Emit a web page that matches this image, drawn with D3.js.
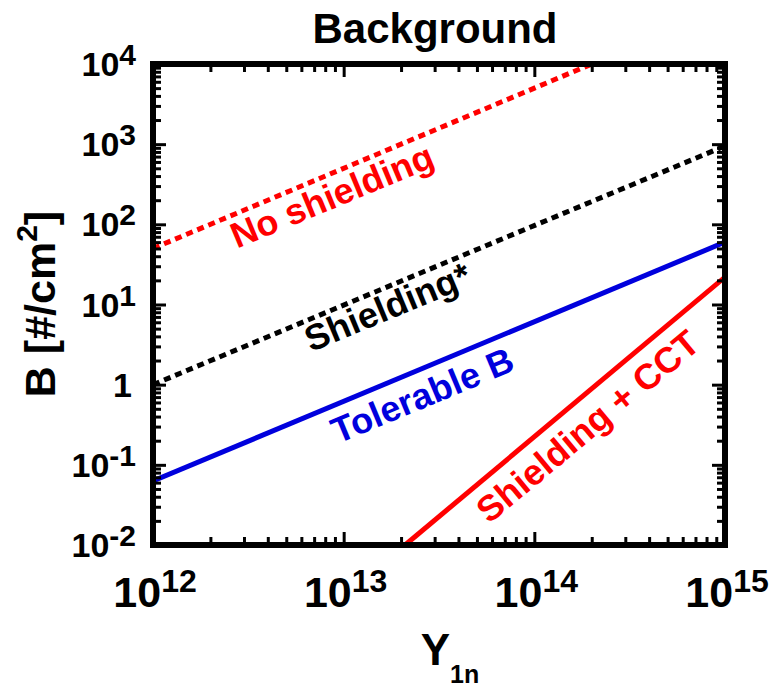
<!DOCTYPE html>
<html>
<head>
<meta charset="utf-8">
<script src="https://cdn.jsdelivr.net/npm/d3@7"></script>
<style>
  body { margin: 0; background: #fff; }
  text { font-family: "Liberation Sans", Arial, sans-serif; font-weight: bold; }
</style>
</head>
<body>
<div id="chart"></div>
<script>
// datos (Y_1n, B)
const noShielding = [[1e12, 50], [2e14, 1e4]];
const shielding = [[1e12, 1], [1e15, 950]];
const tolerable = [[1e12, 0.063], [1e15, 60]];
const shieldingCCT = [[2.1e13, 0.01], [1e15, 22]];

const xMajor = [1e12, 1e13, 1e14, 1e15];
const xExp = ["12", "13", "14", "15"];
const yMajor = [1e-2, 1e-1, 1, 10, 100, 1e3, 1e4];
const yExp = ["-2", "-1", null, "1", "2", "3", "4"];

const width = 775;
const height = 692;
const margin = {top: 64, right: 50, bottom: 147, left: 153};

let svg = d3.select("#chart").append("svg")
  .attr("width", width).attr("height", height);

let x = d3.scaleLog().domain([1e12, 1e15]).range([margin.left, width - margin.right]);
let y = d3.scaleLog().domain([1e-2, 1e4]).range([height - margin.bottom, margin.top]);

// minor ticks
let xMinor = x.ticks().filter(d => !xMajor.includes(d));
let yMinor = y.ticks().filter(d => !yMajor.some(m => Math.abs(m - d) / m < 1e-9));

let x0 = x.range()[0], x1 = x.range()[1], y0 = y.range()[0], y1 = y.range()[1];

svg.append("defs").append("clipPath").attr("id", "clip")
  .append("rect")
  .attr("x", x0).attr("y", y1)
  .attr("width", x1 - x0).attr("height", y0 - y1);

// Lineas
let line = d3.line().x(d => x(d[0])).y(d => y(d[1]));
let series = [
  {data: noShielding, color: "#ff0000", dash: "7,5"},
  {data: shielding, color: "#000000", dash: "7,5"},
  {data: tolerable, color: "#0000dd", dash: null},
  {data: shieldingCCT, color: "#ff0000", dash: null}
];
series.forEach(s => {
  svg.append("path")
    .attr("clip-path", "url(#clip)")
    .attr("d", line(s.data))
    .attr("fill", "none")
    .attr("stroke", s.color)
    .attr("stroke-width", 5)
    .attr("stroke-dasharray", s.dash);
});

// ticks (hacia adentro)
function tickAxis(axisFn, scale, vals, size, transform) {
  svg.append("g")
    .attr("transform", transform)
    .call(axisFn(scale).tickValues(vals).tickSize(size).tickFormat(""))
    .call(g => g.select(".domain").remove())
    .call(g => g.selectAll(".tick line").attr("stroke", "#000").attr("stroke-width", 3));
}
tickAxis(d3.axisBottom, x, xMajor, -13, `translate(0,${y0})`);
tickAxis(d3.axisBottom, x, xMinor, -8, `translate(0,${y0})`);
tickAxis(d3.axisTop, x, xMajor, -13, `translate(0,${y1})`);
tickAxis(d3.axisTop, x, xMinor, -8, `translate(0,${y1})`);
tickAxis(d3.axisLeft, y, yMajor, -13, `translate(${x0},0)`);
tickAxis(d3.axisLeft, y, yMinor, -8, `translate(${x0},0)`);
tickAxis(d3.axisRight, y, yMajor, -13, `translate(${x1},0)`);
tickAxis(d3.axisRight, y, yMinor, -8, `translate(${x1},0)`);

// marco
svg.append("rect")
  .attr("x", x0).attr("y", y1)
  .attr("width", x1 - x0).attr("height", y0 - y1)
  .attr("fill", "none").attr("stroke", "#000").attr("stroke-width", 6);

// etiquetas de ticks
xMajor.forEach((v, i) => {
  let t = svg.append("text")
    .attr("x", x(v) + 2).attr("y", 607)
    .attr("text-anchor", "middle")
    .attr("font-size", 43);
  t.append("tspan").text("10");
  t.append("tspan").attr("dy", -15).attr("font-size", 32).text(xExp[i]);
});

yMajor.forEach((v, i) => {
  let t = svg.append("text")
    .attr("x", 136).attr("y", y(v) + 12)
    .attr("text-anchor", "end")
    .attr("font-size", 34);
  if (yExp[i] === null) {
    t.attr("x", 132).text("1");
  } else {
    t.append("tspan").text("10");
    t.append("tspan").attr("dy", -11).attr("font-size", 30).text(yExp[i]);
  }
});

// titulo y ejes
svg.append("text")
  .attr("x", 435).attr("y", 43)
  .attr("text-anchor", "middle").attr("font-size", 42)
  .text("Background");

let xl = svg.append("text")
  .attr("x", 450).attr("y", 665)
  .attr("text-anchor", "middle").attr("font-size", 44);
xl.append("tspan").text("Y");
xl.append("tspan").attr("dy", 18).attr("font-size", 25).text("1n");

let yl = svg.append("text")
  .attr("transform", "translate(55,304) rotate(-90)")
  .attr("text-anchor", "middle").attr("font-size", 43);
yl.append("tspan").text("B [#/cm");
yl.append("tspan").attr("dy", -18).attr("font-size", 30).text("2");
yl.append("tspan").attr("dy", 18).text("]");

// etiquetas de las curvas
const labels = [
  {text: "No shielding", at: [9.2e12, 163], angle: -22.6, color: "#ff0000"},
  {text: "Shielding*", at: [1.8e13, 6.7], angle: -22.6, color: "#000000"},
  {text: "Tolerable B", at: [2.74e13, 0.53], angle: -22.6, color: "#0000dd"},
  {text: "Shielding + CCT", at: [2.1e14, 0.23], angle: -39.8, color: "#ff0000"}
];
labels.forEach(l => {
  svg.append("text")
    .attr("transform", `translate(${x(l.at[0])},${y(l.at[1])}) rotate(${l.angle})`)
    .attr("text-anchor", "middle")
    .attr("font-size", 36)
    .attr("fill", l.color)
    .text(l.text);
});
</script>
</body>
</html>
